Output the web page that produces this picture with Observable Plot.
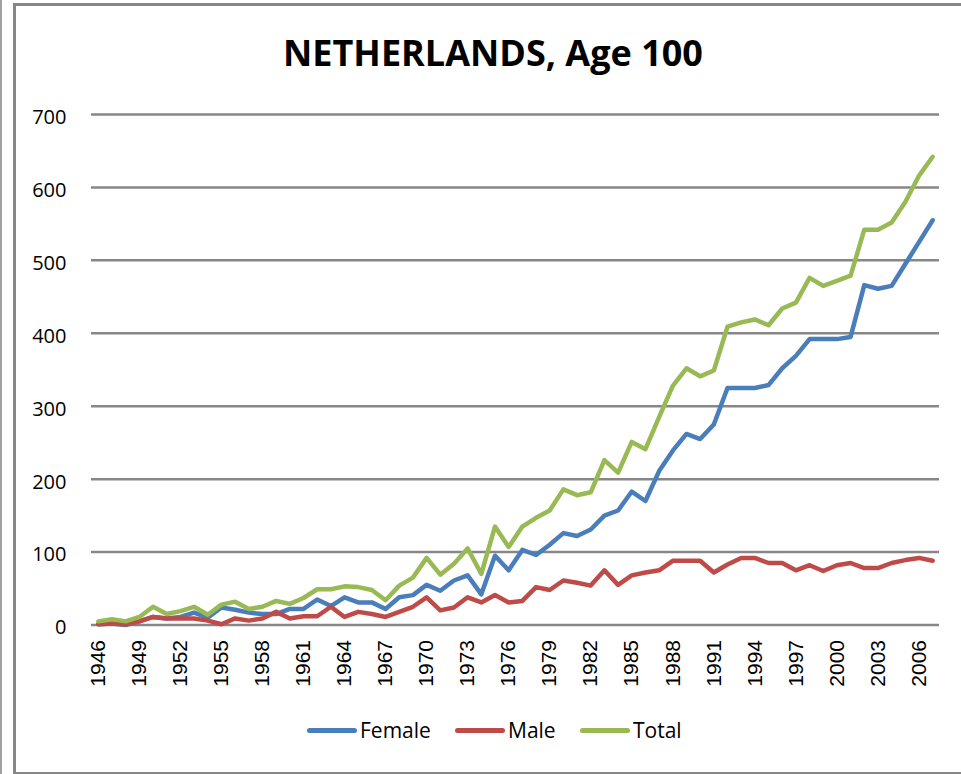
<!DOCTYPE html>
<html><head><meta charset="utf-8">
<script src="https://cdn.jsdelivr.net/npm/d3@7"></script>
<script src="https://cdn.jsdelivr.net/npm/@observablehq/plot@0.6"></script>
<style>
body{margin:0;background:#fff;}
#wrap{position:relative;width:961px;height:774px;overflow:hidden;background:#fff;}
#chart{position:absolute;left:0;top:0;}
.frame{position:absolute;left:13px;top:3px;width:1000px;height:766px;border-left:3px solid #878787;border-top:3px solid #878787;border-bottom:3px solid #878787;}
.edge{position:absolute;left:0;top:0;width:2px;height:774px;background:#a0a0a0;}
#title{position:absolute;left:0;top:35px;width:986px;text-align:center;font:bold 36px/36px "Open Sans",sans-serif;color:#000;}
.leg{position:absolute;top:720px;height:21px;font:21px/21px "Open Sans",sans-serif;color:#000;white-space:nowrap;}
.sw{position:absolute;top:8px;width:50px;height:5px;border-radius:3px;}
.lt{position:absolute;top:0;}
</style></head>
<body>
<div id="wrap">
  <div class="edge"></div>
  <div class="frame"></div>
  <div id="chart"></div>
  <div id="title">NETHERLANDS, Age 100</div>
  <div id="legend"></div>
</div>
<script>
const years = [1946,1947,1948,1949,1950,1951,1952,1953,1954,1955,1956,1957,1958,1959,1960,1961,1962,1963,1964,1965,1966,1967,1968,1969,1970,1971,1972,1973,1974,1975,1976,1977,1978,1979,1980,1981,1982,1983,1984,1985,1986,1987,1988,1989,1990,1991,1992,1993,1994,1995,1996,1997,1998,1999,2000,2001,2002,2003,2004,2005,2006,2007];
const female = [1,2,0,5,11,9,11,17,10,24,21,17,15,15,22,22,35,26,38,31,31,22,38,41,55,47,61,68,42,95,75,103,96,110,126,122,131,150,157,183,170,211,239,262,255,275,325,325,325,329,352,369,392,392,392,395,466,461,465,495,525,555];
const male = [1,2,1,5,11,9,9,9,6,1,9,6,9,18,9,12,12,25,11,18,15,11,18,25,38,20,24,38,31,41,31,33,52,48,61,58,54,75,55,68,72,75,88,88,88,72,83,92,92,85,85,75,82,74,82,85,78,78,85,89,92,88];
const total = [5,8,5,11,25,15,19,25,14,28,32,22,25,33,29,37,49,49,53,52,48,34,54,65,92,69,84,105,70,135,107,135,147,157,186,178,182,226,209,251,241,285,328,352,341,349,409,415,419,411,434,442,476,465,472,479,542,542,552,580,616,642];
const seriesNames = ["Female","Male","Total"];
const seriesColors = ["#4A7EBB","#BE4B48","#98B954"];
const xTicks = [1946,1949,1952,1955,1958,1961,1964,1967,1970,1973,1976,1979,1982,1985,1988,1991,1994,1997,2000,2003,2006];
const yTicks = [0,100,200,300,400,500,600,700];

const seriesValues = [female, male, total];
const rows = [];
seriesNames.forEach((name, s) => {
  years.forEach((yr, i) => rows.push({year: yr, value: seriesValues[s][i], series: name}));
});

const chart = Plot.plot({
  width: 961, height: 774,
  marginLeft: 91, marginRight: 22, marginTop: 114, marginBottom: 149.5,
  x: {domain: [1945.5, 2007.5]},
  y: {domain: [0, 700]},
  color: {domain: seriesNames, range: seriesColors},
  style: {background: "transparent", fontFamily: "Open Sans", color: "#000"},
  marks: [
    Plot.ruleY(yTicks, {stroke: "#878787", strokeWidth: 2.5}),
    Plot.axisY({ticks: yTicks, tickSize: 0, tickPadding: 25, fontSize: 20, fontFamily: "Open Sans", fill: "#000", label: null, dy: 3}),
    Plot.axisX({ticks: xTicks, tickSize: 0, tickRotate: -90, tickPadding: 15, fontSize: 21, fontFamily: "Liberation Sans", fill: "#000", tickFormat: d => String(d), label: null}),
    Plot.line(rows, {x: "year", y: "value", z: "series", stroke: "series", strokeWidth: 4.5, strokeLinejoin: "round", strokeLinecap: "round"})
  ]
});
document.getElementById("chart").appendChild(chart);

const legendLefts = [307, 455, 580];
const legend = document.getElementById("legend");
seriesNames.forEach((name, i) => {
  const item = document.createElement("div");
  item.className = "leg";
  item.style.left = legendLefts[i] + "px";
  item.innerHTML = `<div class="sw" style="left:0;background:${seriesColors[i]}"></div><div class="lt" style="left:53px">${name}</div>`;
  legend.appendChild(item);
});
</script>
</body></html>
